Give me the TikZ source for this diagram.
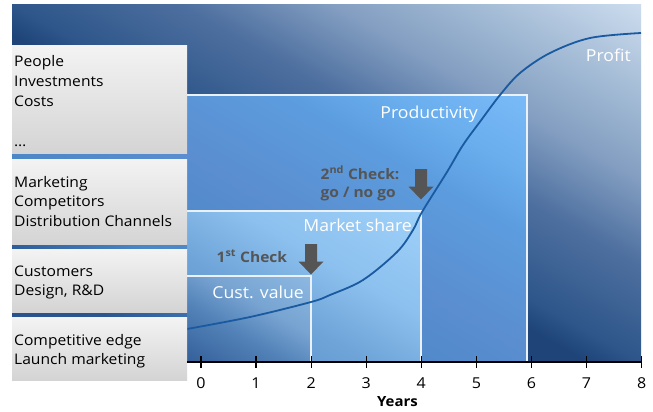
\documentclass[tikz,border=0pt]{standalone}
\usepackage{fontspec}
\setmainfont{Open Sans}[FakeStretch=1.07]

% background gradient stops (light corner at the top right)
\definecolor{bgA}{HTML}{1E4478}
\definecolor{bgD}{HTML}{2E568A}
\definecolor{bgE}{HTML}{4D6F9F}
\definecolor{bgF}{HTML}{839EC1}
\definecolor{bgG}{HTML}{9CB5D1}
\definecolor{bgH}{HTML}{CCDCEE}
% productivity block (reaches under the factor boxes)
\definecolor{prA}{HTML}{1E4A88}
\definecolor{prB}{HTML}{2A5590}
\definecolor{prC}{HTML}{4A86C6}
\definecolor{prD}{HTML}{5A8ED0}
\definecolor{prE}{HTML}{5C9DDF}
\definecolor{prF}{HTML}{6AAEEE}
\definecolor{prG}{HTML}{7ABAF8}
% market share block
\definecolor{msA}{HTML}{4A80B8}
\definecolor{msB}{HTML}{6EA4D8}
\definecolor{msC}{HTML}{8CC0EE}
\definecolor{msD}{HTML}{9ED0F8}
% customer value block
\definecolor{cvA}{HTML}{224A86}
\definecolor{cvB}{HTML}{5282B8}
\definecolor{cvC}{HTML}{78A4D2}
\definecolor{cvD}{HTML}{8CB8E2}
% other colours
\definecolor{boxtop}{HTML}{F3F3F3}
\definecolor{boxbot}{HTML}{D4D4D4}
\definecolor{curveblue}{HTML}{1A5AA0}
\definecolor{chkgray}{HTML}{555555}
\definecolor{edgewhite}{HTML}{EAF1F8}

% backdrop: stops along the axis running from the lower left to the upper right
\pgfdeclarehorizontalshading{bgshade}{100bp}{color(0bp)=(bgA); color(48.35bp)=(bgA);
  color(50bp)=(bgD); color(55.2bp)=(bgE); color(59.9bp)=(bgF); color(63.4bp)=(bgG);
  color(69.4bp)=(bgH); color(100bp)=(bgH)}
\pgfdeclarehorizontalshading{prodshade}{100bp}{color(0bp)=(prA); color(27.9bp)=(prB);
  color(38.9bp)=(prC); color(53.5bp)=(prD); color(67.6bp)=(prE); color(74.8bp)=(prF);
  color(84.2bp)=(prG); color(100bp)=(prG)}
\pgfdeclarehorizontalshading{msshade}{100bp}{color(0bp)=(msA); color(41bp)=(msB);
  color(59bp)=(msC); color(84bp)=(msD); color(100bp)=(msD)}
\pgfdeclarehorizontalshading{cvshade}{100bp}{color(0bp)=(cvA); color(41bp)=(cvB);
  color(59bp)=(cvC); color(84bp)=(cvD); color(100bp)=(cvD)}

\begin{document}
\begin{tikzpicture}[x=1pt, y=-1pt,
  graybox/.style={top color=boxtop, bottom color=boxbot},
  rectedge/.style={draw=edgewhite, line width=1.6pt},
  boxtext/.style={anchor=base west, inner sep=0pt, text=black,
    font=\fontsize{14.6}{19}\selectfont},
  lbl/.style={anchor=base east, inner sep=0pt, text=white,
    font=\fontsize{16.5}{20}\selectfont},
  chk/.style={anchor=base west, inner sep=0pt, text=chkgray,
    font=\fontsize{14.5}{17}\selectfont\bfseries},
  profitcurve/.style={draw=curveblue, line width=1.8pt},
  axisline/.style={draw=black, line width=1.3pt},
  tickmark/.style={draw=black, line width=1.3pt},
  yearlbl/.style={anchor=base, inner sep=0pt, font=\fontsize{15}{18}\selectfont},
  chkarrow/.pic={\fill[chkgray] (-6,0) -- (6,0) -- (6,17.5) -- (12.5,17.5)
    -- (0,30.5) -- (-12.5,17.5) -- (-6,17.5) -- cycle;}
]
\useasboundingbox (0,0) rectangle (653,412);
\fill[white] (0,0) rectangle (653,412);

% gradient backdrop of the chart; isolines run parallel to its
% top-left/bottom-right diagonal
\begin{scope}
  \clip (12,5) rectangle (641,362);
  \begin{scope}[transform canvas={shift={(326.5,183.5)}, rotate=60.4}]
    \path[shading=bgshade] (-400,-370) rectangle (400,370);
  \end{scope}
\end{scope}

% nested phase blocks
\path[shading=prodshade, shading angle=60] (12,95) rectangle (527,362);
\draw[rectedge] (187,95) -- (527,95) -- (527,362);
\path[shading=msshade, shading angle=60] (187,211) rectangle (421,362);
\draw[rectedge] (187,211) -- (421,211) -- (421,362);
\path[shading=cvshade, shading angle=60] (187,276) rectangle (311,362);
\draw[rectedge] (187,276) -- (311,276) -- (311,362);

% block labels
\node[lbl] (prodlbl) at (478,118) {Productivity};
\node[lbl] (mslbl) at (412,231.5) {Market share};
\node[lbl] (cvlbl) at (304,298) {Cust. value};
\node[lbl] (profitlbl) at (631,62) {Profit};

% profit curve
\draw[profitcurve] plot[smooth, tension=0.55] coordinates {(187,329) (250,317)
  (311,302) (330,295) (363,280) (397,252) (413,230) (422,212) (447,172)
  (463,145) (482,119) (500,95) (520,73) (550,53) (590,38) (641,33)};

% decision checks
\node[chk] (chk1) at (216.5,262) {1\textsuperscript{st} Check};
\pic at (311,244) {chkarrow};
\node[chk] (chk2a) at (320.5,179) {2\textsuperscript{nd} Check:};
\node[chk] (chk2b) at (320.5,197) {go / no go};
\pic at (421,169) {chkarrow};

% factor boxes on the left
\path[graybox] (12,46) rectangle (187,153);
\path[graybox] (12,159) rectangle (187,244);
\path[graybox] (12,249) rectangle (187,312);
\path[graybox] (12,317) rectangle (187,380);

\node[boxtext] (people) at (14,66.7) {People};
\node[boxtext] (invest) at (14,86.4) {Investments};
\node[boxtext] (costs) at (14,106) {Costs};
\node[boxtext] (etc) at (14,146) {\dots};
\node[boxtext] (mkt) at (14,187.3) {Marketing};
\node[boxtext] (comp) at (14,206.6) {Competitors};
\node[boxtext] (dist) at (14,226) {Distribution Channels};
\node[boxtext] (cust) at (14,276) {Customers};
\node[boxtext] (design) at (14,295.6) {Design, R\&D};
\node[boxtext] (edge) at (14,345) {Competitive edge};
\node[boxtext] (launch) at (14,364.4) {Launch marketing};

% time axis
\draw[axisline] (187,362) -- (642,362);
\foreach \i in {0,...,8} {
  \draw[tickmark] ({201+55.08*\i},356) -- ({201+55.08*\i},368);
  \node[yearlbl] (yr\i) at ({201+55.08*\i},388.3) {\i};
}
\node[anchor=base, inner sep=0pt, font=\fontsize{14}{17}\selectfont\bfseries]
  (years) at (397.5,406.7) {Years};
\end{tikzpicture}
\end{document}
